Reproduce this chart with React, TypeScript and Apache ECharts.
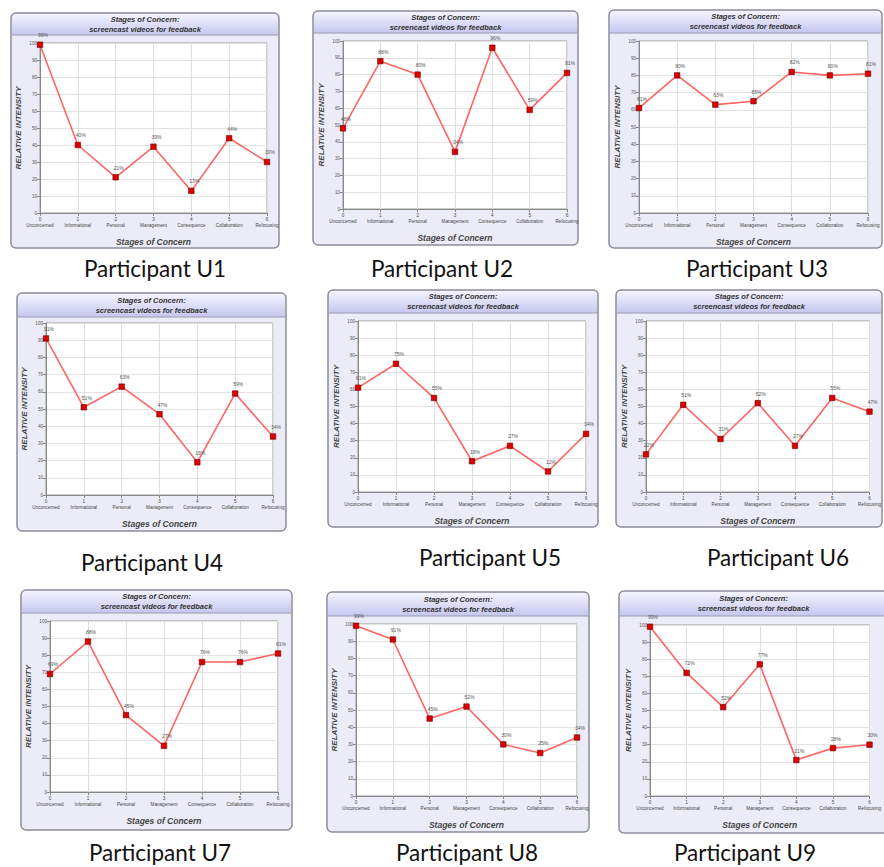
import React, { useEffect, useRef } from "react";
import * as echarts from "echarts";

const categories = ["Unconcerned", "Informational", "Personal", "Management", "Consequence", "Collaboration", "Refocusing"];
const yTicks = { min: 0, max: 100, interval: 10 };
const participants = ["Participant U1", "Participant U2", "Participant U3", "Participant U4", "Participant U5", "Participant U6", "Participant U7", "Participant U8", "Participant U9"];
const u1 = [99, 40, 21, 39, 13, 44, 30];
const u2 = [48, 88, 80, 34, 96, 59, 81];
const u3 = [61, 80, 63, 65, 82, 80, 81];
const u4 = [91, 51, 63, 47, 19, 59, 34];
const u5 = [61, 75, 55, 18, 27, 12, 34];
const u6 = [22, 51, 31, 52, 27, 55, 47];
const u7 = [69, 88, 45, 27, 76, 76, 81];
const u8 = [99, 91, 45, 52, 30, 25, 34];
const u9 = [99, 72, 52, 77, 21, 28, 30];
const seriesData = [u1, u2, u3, u4, u5, u6, u7, u8, u9];

// layout: panel box [x1,y1,x2,y2,headerBottom], grid [left,top,width,height], caption [cx,cy]
const panels = [
  { box: [11, 13, 279, 248, 35], grid: [40, 43, 227, 170], cap: [155, 268] },
  { box: [313, 11, 578, 245, 33], grid: [343, 41, 224, 168], cap: [442, 268] },
  { box: [609, 10, 882, 248, 33], grid: [639, 41, 229, 172], cap: [757, 268] },
  { box: [17, 293, 286, 531, 317], grid: [46, 323, 227, 172], cap: [152, 562] },
  { box: [328, 290, 598, 527, 313], grid: [358, 321, 228, 171], cap: [490, 557] },
  { box: [616, 290, 882, 527, 313], grid: [646, 321, 227, 171], cap: [778, 557] },
  { box: [21, 590, 292, 830, 613], grid: [50, 621, 228, 171], cap: [160, 852] },
  { box: [327, 592, 589, 832, 616], grid: [356, 624, 221, 172], cap: [467, 852] },
  { box: [619, 591, 888, 833, 616], grid: [650, 625, 231, 171], cap: [745, 852] },
];

export default function App() {
  const ref = useRef<HTMLDivElement>(null);
  useEffect(() => {
    if (!ref.current) return;
    const chart = echarts.init(ref.current, null, { renderer: "svg" });
    const graphics: any[] = [];
    panels.forEach((p, i) => {
      const [x1, y1, x2, y2, hb] = p.box;
      graphics.push({
        type: "rect",
        z: -10,
        shape: { x: x1, y: y1, width: x2 - x1, height: y2 - y1, r: 5 },
        style: { fill: "#ececf8", stroke: "#8c8c9c", lineWidth: 1.5 },
      });
      graphics.push({
        type: "rect",
        z: -9,
        shape: { x: x1 + 1, y: y1 + 1, width: x2 - x1 - 2, height: hb - y1 - 1, r: [4, 4, 0, 0] },
        style: {
          fill: new echarts.graphic.LinearGradient(0, 0, 0, 1, [
            { offset: 0, color: "#f4f4ff" },
            { offset: 1, color: "#c6c6f0" },
          ]),
        },
      });
      graphics.push({
        type: "line",
        z: -9,
        shape: { x1: x1, y1: hb, x2: x2, y2: hb },
        style: { stroke: "#9a9ab0", lineWidth: 1 },
      });
      graphics.push({
        type: "text",
        z: -8,
        x: (x1 + x2) / 2,
        y: (y1 + hb) / 2,
        style: {
          text: "Stages of Concern:\nscreencast videos for feedback",
          align: "center",
          verticalAlign: "middle",
          font: "italic bold 7.5px Arial, 'Liberation Sans', sans-serif",
          fill: "#333",
          lineHeight: 10,
        },
      });
      graphics.push({
        type: "text",
        x: p.cap[0],
        y: p.cap[1],
        style: {
          text: participants[i],
          align: "center",
          verticalAlign: "middle",
          font: "22.5px Lato, 'Open Sans', sans-serif",
          fill: "#111",
        },
      });
    });

    const grids = panels.map((p) => ({
      left: p.grid[0],
      top: p.grid[1],
      width: p.grid[2],
      height: p.grid[3],
      show: true,
      backgroundColor: "#ffffff",
      borderColor: "#9a9a9a",
      borderWidth: 1,
      containLabel: false,
    }));
    const xAxes = panels.map((_, i) => ({
      type: "category",
      gridIndex: i,
      data: categories,
      boundaryGap: false,
      name: "Stages of Concern",
      nameLocation: "middle",
      nameGap: 24,
      nameTextStyle: { fontSize: 8.5, fontStyle: "italic", fontWeight: "bold", color: "#444", fontFamily: "Arial, 'Liberation Sans', sans-serif" },
      axisLine: { lineStyle: { color: "#888" } },
      axisTick: { show: true, length: 3, lineStyle: { color: "#888" } },
      axisLabel: {
        interval: 0,
        fontSize: 4.6,
        color: "#444",
        margin: 3,
        lineHeight: 6,
        formatter: (v: string, idx: number) => `${idx}\n${v}`,
      },
      splitLine: { show: true, lineStyle: { color: "#dedede" } },
    }));
    const yAxes = panels.map((_, i) => ({
      type: "value",
      gridIndex: i,
      min: yTicks.min,
      max: yTicks.max,
      interval: yTicks.interval,
      name: "RELATIVE INTENSITY",
      nameLocation: "middle",
      nameGap: 18,
      nameTextStyle: { fontSize: 8, fontStyle: "italic", fontWeight: "bold", color: "#444", fontFamily: "Arial, 'Liberation Sans', sans-serif" },
      axisLine: { show: true, lineStyle: { color: "#888" } },
      axisTick: { show: true, length: 3, lineStyle: { color: "#888" } },
      axisLabel: { fontSize: 4.6, color: "#555", margin: 3 },
      splitLine: { show: true, lineStyle: { color: "#e2e2e2" } },
    }));
    const series = seriesData.map((d, i) => ({
      type: "line",
      xAxisIndex: i,
      yAxisIndex: i,
      data: d,
      symbol: "rect",
      symbolSize: 5.5,
      itemStyle: { color: "#dd0000", borderColor: "#700000", borderWidth: 0.6 },
      lineStyle: { color: "#ff6464", width: 1.6 },
      label: {
        show: true,
        position: "top",
        offset: [3, 1],
        fontSize: 5,
        color: "#555",
        formatter: (pr: any) => `${pr.value}%`,
      },
    }));

    chart.setOption({
      animation: false,
      backgroundColor: "#ffffff",
      grid: grids,
      xAxis: xAxes,
      yAxis: yAxes,
      series,
      graphic: graphics,
    });
    return () => chart.dispose();
  }, []);
  return <div ref={ref} style={{ position: "fixed", left: 0, top: 0, width: 884, height: 867 }} />;
}
